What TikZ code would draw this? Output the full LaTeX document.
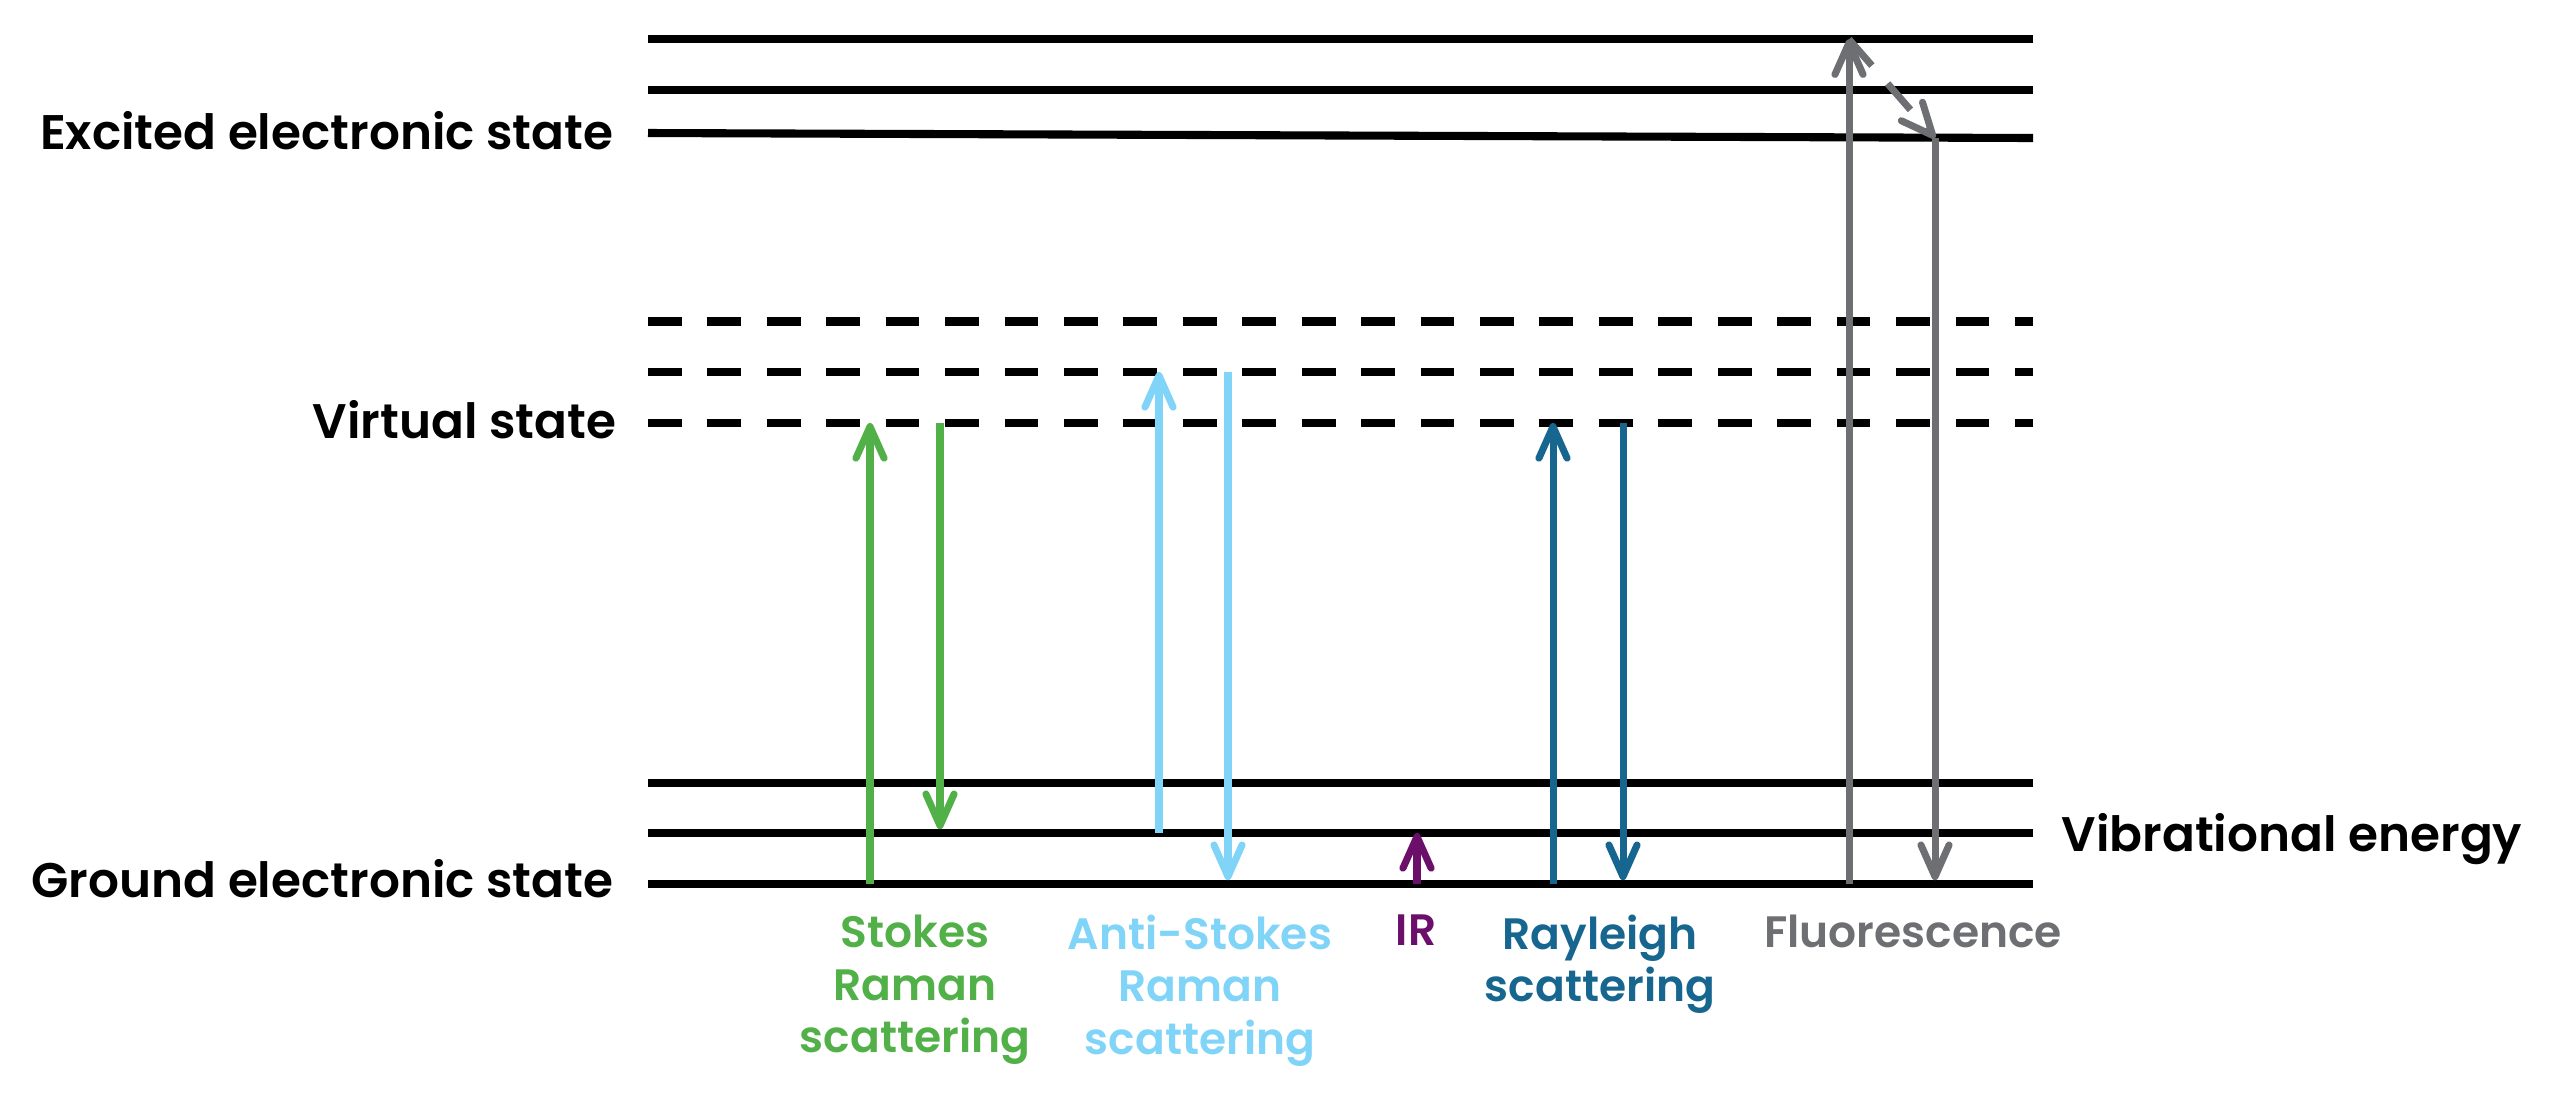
\documentclass[tikz,border=0pt]{standalone}
\usepackage{fontspec}
\setmainfont{Poppins}[BoldFont={Poppins SemiBold}]
\usepackage{xcolor}
\definecolor{jbGreen}{HTML}{52B048}
\definecolor{jbSky}{HTML}{80D4F7}
\definecolor{jbPurple}{HTML}{6B0F6B}
\definecolor{jbTeal}{HTML}{17668F}
\definecolor{jbGray}{HTML}{6E6F73}
\usetikzlibrary{arrows.meta,calc}

\begin{document}
\begin{tikzpicture}[x=0.01cm,y=-0.01cm,
      every node/.style={font=\bfseries\fontsize{13.8}{17}\selectfont,inner sep=0pt},
      level/.style={line width=2.3pt,black},
      virtual/.style={line width=2.3pt,black,dash pattern=on 9.6pt off 7.3pt},
      trans/.style={line width=2pt,-{Straight Barb[length=9pt,width=8pt,round]}},
      down/.style={shorten >=1.1pt},
      caption/.style={font=\bfseries\fontsize{12.5}{15}\selectfont,align=center,anchor=north},
    ]
    \useasboundingbox (0,0) rectangle (2560,1096);

    % Level ends
    \coordinate (g0L) at (648,884);   \coordinate (g0R) at (2033,884);
    \coordinate (g1L) at (648,833);   \coordinate (g1R) at (2033,833);
    \coordinate (g2L) at (648,782.7); \coordinate (g2R) at (2033,782.7);
    \coordinate (v0L) at (648,423);   \coordinate (v0R) at (2033,423);
    \coordinate (v1L) at (648,372);   \coordinate (v1R) at (2033,372);
    \coordinate (v2L) at (648,321.5); \coordinate (v2R) at (2033,321.5);
    \coordinate (e0L) at (648,133);   \coordinate (e0R) at (2033,138);
    \coordinate (e1L) at (648,90);    \coordinate (e1R) at (2033,90);
    \coordinate (e2L) at (648,39.3);  \coordinate (e2R) at (2033,39.3);

    % Arrow columns
    \coordinate (stU) at (870,0);  \coordinate (stD) at (940,0);
    \coordinate (asU) at (1159,0); \coordinate (asD) at (1228,0);
    \coordinate (ir)  at (1417,0);
    \coordinate (raU) at (1553,0); \coordinate (raD) at (1623,0);
    \coordinate (flU) at (1849,0); \coordinate (flD) at (1935,0);

    % Energy levels
    \draw[level] (g0L) -- (g0R);
    \draw[level] (g1L) -- (g1R);
    \draw[level] (g2L) -- (g2R);
    \draw[virtual] (v0L) -- (v0R);
    \draw[virtual] (v1L) -- (v1R);
    \draw[virtual] (v2L) -- (v2R);
    \draw[level] (e0L) -- (e0R);
    \draw[level] (e1L) -- (e1R);
    \draw[level] (e2L) -- (e2R);

    % Level labels
    \node[anchor=base east] (excited) at (614,149) {Excited electronic state};
    \node[anchor=base east] (virt) at (617,438) {Virtual state};
    \node[anchor=base east] (ground) at (614,897) {Ground electronic state};
    \node[anchor=base west] (vib) at (2061,851) {Vibrational energy};

    % Transitions
    \draw[trans,jbGreen] (stU |- g0L) -- (stU |- v0L);
    \draw[trans,jbGreen,down] (stD |- v0L) -- (stD |- g1L);
    \draw[trans,jbSky] (asU |- g1L) -- (asU |- v1L);
    \draw[trans,jbSky,down] (asD |- v1L) -- (asD |- g0L);
    \draw[trans,jbPurple] (ir |- g0L) -- (ir |- g1L);
    \draw[trans,jbTeal] (raU |- g0L) -- (raU |- v0L);
    \draw[trans,jbTeal,down] (raD |- v0L) -- (raD |- g0L);
    \draw[trans,jbGray] (flU |- g0L) -- (flU |- e2L);
    \draw[trans,jbGray,dash pattern=on 9.9pt off 6.8pt] (flU |- e2L) -- (flD |- e0R);
    \draw[trans,jbGray,down] (flD |- e0R) -- (flD |- g0L);

    % Process labels
    \node[caption,text=jbGreen] (stokes) at (915,914) {Stokes\\Raman\\scattering};
    \node[caption,text=jbSky] (antistokes) at (1200,914) {Anti-Stokes\\Raman\\scattering};
    \node[caption,text=jbPurple] (irlab) at (1416,914) {IR};
    \node[caption,text=jbTeal] (rayleigh) at (1600,914) {Rayleigh\\scattering};
    \node[caption,text=jbGray] (fluor) at (1913,914) {Fluorescence};

  \end{tikzpicture}
\end{document}
